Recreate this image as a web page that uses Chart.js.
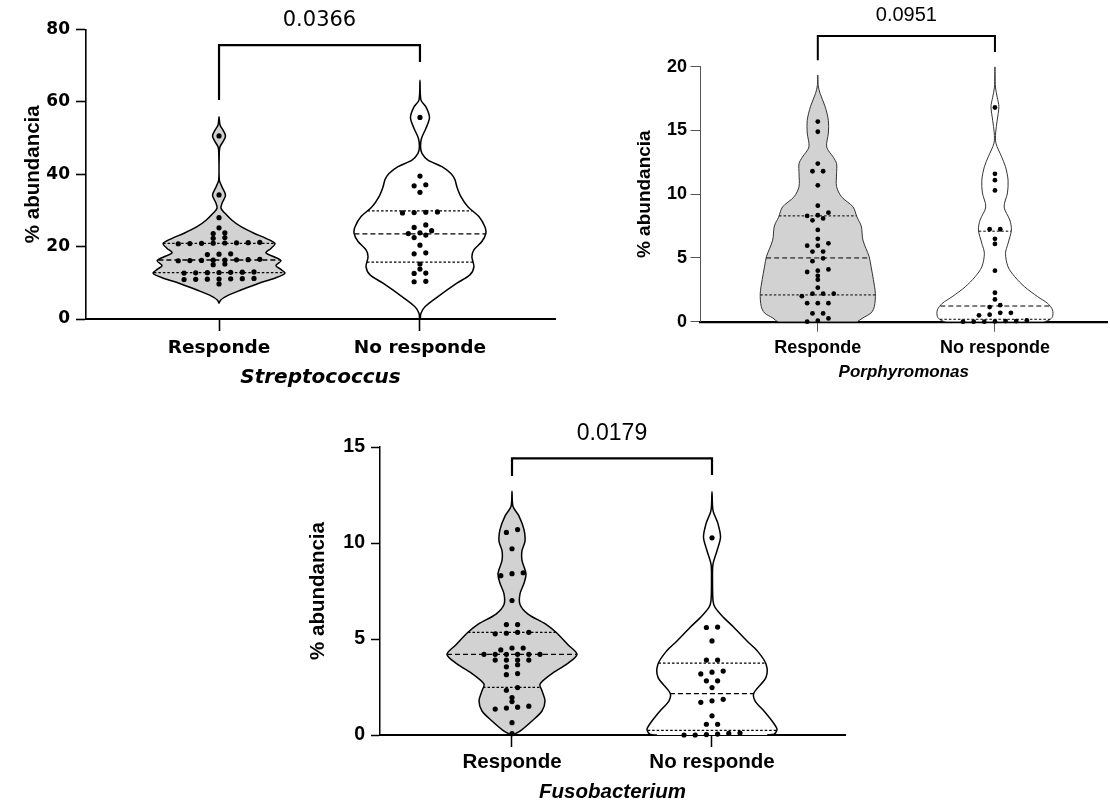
<!DOCTYPE html>
<html><head><meta charset="utf-8">
<script src="https://cdn.jsdelivr.net/npm/chart.js@4.4.1/dist/chart.umd.min.js"></script>
<style>
html,body{margin:0;padding:0;background:#fff;width:1110px;height:810px;overflow:hidden;position:relative}
canvas{position:absolute}
</style></head><body>
<canvas id="c1"></canvas>
<canvas id="c2"></canvas>
<canvas id="c3"></canvas>
<script>
// ---------------- DATA ----------------
const categories = ['Responde', 'No responde'];
const genera = ['Streptococcus', 'Porphyromonas', 'Fusobacterium'];
const pValues = ['0.0366', '0.0951', '0.0179'];
const yAxisMax = [80, 20, 15];
const yAxisStep = [20, 5, 5];

// individual points (% abundancia)
const strepResp = [9.7, 10.9, 10.95, 11.0, 11.05, 11.1, 11.15, 11.2, 12.7, 12.75, 12.8, 12.85, 12.9, 12.95, 13.0,
  15.0, 15.2, 16.1, 16.15, 16.2, 16.25, 16.3, 16.35, 16.4, 16.5, 17.8, 17.9, 18.0,
  20.8, 20.85, 20.9, 20.95, 21.0, 21.05, 21.1, 21.2, 22.3, 22.5, 23.6, 23.8, 25.2, 28.0, 34.3, 50.6];
const strepNoResp = [10.3, 10.4, 12.6, 12.7, 13.8, 15.2, 18.0, 18.3, 20.4, 22.5, 23.2, 23.6, 23.8, 24.4, 25.3, 26.0,
  29.3, 29.4, 29.5, 29.6, 35.0, 36.8, 37.1, 39.5, 55.7];
const porphResp = [0.0, 0.08, 0.26, 0.65, 0.65, 1.45, 1.45, 1.45, 2.0, 2.2, 2.2, 2.2, 2.67, 3.3, 3.6, 3.9, 4.0, 4.1,
  4.75, 4.97, 5.5, 5.5, 5.96, 5.96, 6.15, 6.5, 7.2, 7.95, 8.1, 8.3, 8.35, 8.55, 9.1, 10.7, 11.8, 11.8, 12.4, 14.9, 15.7];
const porphNoResp = [0, 0, 0, 0.02, 0.05, 0.05, 0.1, 0.5, 0.55, 0.7, 0.7, 1.15, 1.3, 1.75, 2.27, 4.0, 6.1, 6.5,
  7.25, 7.25, 10.3, 11.1, 11.6, 16.8];
const fusoResp = [0.07, 0.64, 1.35, 1.4, 1.45, 1.5, 1.74, 1.95, 2.33, 2.47, 3.14, 3.2, 3.55, 3.66, 3.9, 3.9, 3.9, 3.9,
  4.2, 4.2, 4.2, 4.2, 4.2, 4.2, 4.43, 4.53, 4.53, 5.27, 5.3, 5.35, 5.35, 5.75, 5.75, 7.0, 8.3, 8.4, 8.45, 9.7, 10.55, 10.7];
const fusoNoResp = [0, 0, 0.02, 0.05, 0.08, 0.1, 0.56, 0.56, 1.0, 1.70, 1.78, 1.86, 2.47, 2.82, 2.82, 3.18, 3.27, 3.33,
  3.9, 3.9, 4.9, 5.6, 5.62, 10.27];

// quartile lines [Q1, median, Q3]
const strepRespQuart = [12.8, 16.3, 20.9];
const strepNoRespQuart = [15.7, 23.5, 29.9];
const porphRespQuart = [2.1, 5.0, 8.3];
const porphNoRespQuart = [0.19, 1.23, 7.1];
const fusoRespQuart = [2.48, 4.2, 5.35];
const fusoNoRespQuart = [0.24, 2.16, 3.74];

// violin density profiles (level, relative density)
const strepRespLevels = [4.3, 5.2, 6.4, 8.0, 9.9, 11.2, 12.6, 13.7, 14.8, 16.1, 17.2, 18.3, 19.5, 20.9, 22.3, 23.7, 25.5,
  27.3, 29.2, 30.6, 32.0, 34.2, 36.5, 38.4, 46.2, 47.6, 49.0, 50.6, 52.2, 53.6, 55.9];
const strepRespDensity = [0, 1.5, 8, 22, 40, 55, 66, 62, 57, 62, 55, 47, 52, 56, 47, 35, 22,
  13, 6, 2, 3, 6.5, 3, 0.3, 0.3, 1, 4, 6.5, 4, 1, 0];
const strepNoRespLevels = [0.0, 1.6, 3.4, 6.2, 9.9, 12.2, 14.4, 17.2, 19.1, 21.4, 23.7, 25.5, 28.3, 31.0, 33.8, 36.5,
  38.5, 40.2, 42.1, 43.9, 45.8, 47.5, 49.9, 52.7, 55.7, 58.6, 60.5, 66.0];
const strepNoRespDensity = [0.3, 1, 5, 18, 37, 50, 54, 52, 54, 62, 66, 65, 59, 48, 41, 37,
  35, 31, 22, 8, 2, 0.6, 1.5, 6, 9.5, 6, 1, 0];
const porphRespLevels = [0, 0.3, 0.69, 1.2, 2.2, 3.3, 4.3, 5.1, 6.4, 7.5, 8.2, 9.0, 9.8, 10.6, 11.6, 12.4, 12.9, 13.7,
  14.8, 15.8, 16.9, 17.9, 18.5, 19.35];
const porphRespDensity = [40, 45.7, 54, 57.3, 58.3, 56.3, 54, 52, 45.7, 44, 39.7, 35.7, 24, 19, 19, 19, 15.7, 9,
  10.7, 10.7, 7.3, 2.3, 0.5, 0];
const porphNoRespLevels = [0, 0.13, 0.4, 0.92, 1.44, 1.96, 2.74, 3.53, 4.3, 5.36, 6.15, 7.2, 7.98, 9.0, 10.1, 11.1,
  12.15, 12.94, 14.0, 14.8, 15.8, 16.87, 17.6, 18.4, 20.0];
const porphNoRespDensity = [50, 55, 58.3, 58.3, 53.3, 43.3, 30, 20, 13.3, 10.7, 13.3, 16.7, 15, 9.3, 12.7, 13.3,
  10.7, 6.7, 1, 0.7, 2.3, 4, 2.3, 0.5, 0];
const fusoRespLevels = [0, 0.03, 0.2, 0.73, 1.25, 1.78, 2.3, 2.65, 3.2, 3.7, 4.2, 4.7, 5.35, 5.8, 6.3, 6.8, 7.35, 7.9,
  8.4, 9.1, 9.6, 10.1, 10.7, 11.4, 11.9, 12.7];
const fusoRespDensity = [0, 2, 8, 20, 30, 33, 30, 28, 40, 55, 65, 56, 44, 33, 16, 8, 8, 12,
  14, 10, 10, 13, 12, 7, 1, 0];
const fusoNoRespLevels = [0, 0.04, 0.3, 0.73, 1.25, 1.78, 2.2, 3.0, 3.7, 4.4, 4.9, 5.6, 6.1, 6.65, 7.0, 8.2, 8.9, 9.6,
  10.3, 11.0, 11.7, 12.67];
const fusoNoRespDensity = [55, 62, 65, 60, 52, 43, 42, 54, 54, 45, 35, 22, 12, 3, 1, 0.5, 1, 5,
  8.5, 6, 1, 0];

// significance brackets: [left leg end, right leg end], top, label level
const bracketLegs = [[60.5, 71.0], [20.5, 21.15], [13.49, 13.54]];
const bracketTop = [75.7, 22.4, 14.41];
const pLabelLevel = [82.6, 24.05, 15.68];

// ---------------- STYLE / LAYOUT ----------------
const LIB = '"Liberation Sans", Arial, sans-serif';
const DJV = '"DejaVu Sans", sans-serif';
const panelStyles = [
  { id: 'c1', left: 0, top: 0, w: 560, h: 400, padTop: 29.5, padRight: 5, yW: 86, xH: 81, xMin: 0.338, xMax: 2.672,
    yTickFont: {family: DJV, size: 17, weight: 'bold'}, xTickFont: {family: DJV, size: 18.5, weight: 'bold'},
    xTitleFont: {family: DJV, size: 20, weight: 'bold', style: 'italic'}, yTitleFont: {family: LIB, size: 20.5, weight: 'bold'},
    pFont: '21px ' + DJV, yTickLen: 10, yTickPad: 6, xTickLen: 12, xTickPad: 5.9, xTitlePad: 10, yTitlePad: 20.7,
    axisColor: '#000', axisWidth: 1.6, violinColor: '#000', violinWidth: 1.5, qWidth: 1.3, bracketWidth: 2.2,
    baseDash: [4, 1.5], baseWidth: 2, dotRadius: 2.6, dotSpacing: 0.058, groupTol: 0.97, halfW: 0.328 },
  { id: 'c2', left: 600, top: 0, w: 510, h: 400, padTop: 66.7, padRight: 0, yW: 100, xH: 78.3, xMin: 0.335, xMax: 2.636,
    yTickFont: {family: LIB, size: 18, weight: 'bold'}, xTickFont: {family: LIB, size: 18, weight: 'bold'},
    xTitleFont: {family: LIB, size: 17, weight: 'bold', style: 'italic'}, yTitleFont: {family: LIB, size: 19, weight: 'bold'},
    pFont: '20px ' + LIB, yTickLen: 9.5, yTickPad: 3.5, xTickLen: 10, xTickPad: 5.5, xTitlePad: 17.8, yTitlePad: 33.6,
    axisColor: '#555', axisWidth: 1, violinColor: '#333', violinWidth: 1, qWidth: 1, bracketWidth: 2,
    baseDash: [3, 2], baseWidth: 2.2, dotRadius: 2.4, dotSpacing: 0.060, groupTol: 0.275, halfW: 0.325 },
  { id: 'c3', left: 290, top: 400, w: 570, h: 410, padTop: 47, padRight: 15, yW: 90, xH: 75, xMin: 0.34, xMax: 2.665,
    yTickFont: {family: LIB, size: 19.5, weight: 'bold'}, xTickFont: {family: LIB, size: 20.5, weight: 'bold'},
    xTitleFont: {family: LIB, size: 20.5, weight: 'bold', style: 'italic'}, yTitleFont: {family: LIB, size: 20.5, weight: 'bold'},
    pFont: '23px ' + LIB, yTickLen: 9, yTickPad: 6, xTickLen: 12, xTickPad: 2.7, xTitlePad: 5.7, yTitlePad: 15.7,
    axisColor: '#000', axisWidth: 1.5, violinColor: '#000', violinWidth: 1.5, qWidth: 1.3, bracketWidth: 2.2,
    baseDash: [4, 1.5], baseWidth: 2, dotRadius: 2.6, dotSpacing: 0.056, groupTol: 0.182, halfW: 0.325 }
];
const respFill = '#d2d2d2';
const noRespFill = '#ffffff';

const panelGroups = [
  [{values: strepResp, quart: strepRespQuart, levels: strepRespLevels, density: strepRespDensity, fill: respFill},
   {values: strepNoResp, quart: strepNoRespQuart, levels: strepNoRespLevels, density: strepNoRespDensity, fill: noRespFill}],
  [{values: porphResp, quart: porphRespQuart, levels: porphRespLevels, density: porphRespDensity, fill: respFill},
   {values: porphNoResp, quart: porphNoRespQuart, levels: porphNoRespLevels, density: porphNoRespDensity, fill: noRespFill}],
  [{values: fusoResp, quart: fusoRespQuart, levels: fusoRespLevels, density: fusoRespDensity, fill: respFill},
   {values: fusoNoResp, quart: fusoNoRespQuart, levels: fusoNoRespLevels, density: fusoNoRespDensity, fill: noRespFill}]
];

// ---------------- helpers ----------------
function densityAt(levels, dens, v) {
  for (let i = 0; i < levels.length - 1; i++) {
    if (v >= levels[i] && v <= levels[i + 1]) {
      const t = (v - levels[i]) / (levels[i + 1] - levels[i]);
      return dens[i] + t * (dens[i + 1] - dens[i]);
    }
  }
  return 0;
}
function swarm(values, center, tol, spacing) {
  const sorted = [...values].sort((a, b) => a - b);
  const out = [];
  let group = [];
  const flush = () => {
    group.forEach((v, i) => out.push({x: center + (i - (group.length - 1) / 2) * spacing, y: v}));
    group = [];
  };
  for (const v of sorted) {
    if (group.length && v - group[0] > tol) flush();
    group.push(v);
  }
  flush();
  return out;
}

const pvalPlugin = {
  id: 'pval',
  afterDatasetsDraw(chart, args, opts) {
    const {ctx, scales: {x, y}} = chart;
    ctx.save();
    ctx.font = opts.font;
    ctx.fillStyle = '#000';
    ctx.textAlign = 'center';
    ctx.textBaseline = 'middle';
    ctx.fillText(opts.text, x.getPixelForValue(1.5), y.getPixelForValue(opts.level));
    ctx.restore();
  }
};

function buildPanel(k) {
  const s = panelStyles[k];
  const groups = panelGroups[k];
  const cv = document.getElementById(s.id);
  cv.width = s.w; cv.height = s.h;
  cv.style.left = s.left + 'px'; cv.style.top = s.top + 'px';
  cv.style.width = s.w + 'px'; cv.style.height = s.h + 'px';

  const maxDens = Math.max(...groups.flatMap(g => g.density));
  const datasets = [];
  groups.forEach((g, gi) => {
    const c = gi + 1;
    const right = g.levels.map((y, i) => ({x: c + g.density[i] / maxDens * s.halfW, y}));
    const left = g.levels.map((y, i) => ({x: c - g.density[i] / maxDens * s.halfW, y})).reverse();
    if (g.density[g.density.length - 1] === 0) left.shift();
    const pts = right.concat(left);
    if (g.density[0] !== 0) pts.push({x: right[0].x, y: right[0].y});
    datasets.push({
      data: pts, showLine: true, fill: 'shape', backgroundColor: g.fill,
      borderColor: s.violinColor, borderWidth: s.violinWidth, pointRadius: 0, pointHoverRadius: 0,
      tension: 0.3, order: 3,
      segment: { borderColor: ctx => (ctx.p0.parsed.y === 0 && ctx.p1.parsed.y === 0) ? 'rgba(0,0,0,0)' : undefined }
    });
    g.quart.forEach((q, qi) => {
      const w = densityAt(g.levels, g.density, q) / maxDens * s.halfW;
      datasets.push({
        data: [{x: c - w, y: q}, {x: c + w, y: q}], showLine: true, fill: false,
        borderColor: '#000', borderWidth: s.qWidth, borderDash: qi === 1 ? [5, 3] : [2.5, 2],
        pointRadius: 0, pointHoverRadius: 0, order: 2
      });
    });
    datasets.push({
      data: swarm(g.values, c, s.groupTol, s.dotSpacing), showLine: false,
      pointRadius: s.dotRadius, pointHoverRadius: s.dotRadius, backgroundColor: '#000', borderWidth: 0,
      order: 0, clip: false
    });
  });
  datasets.push({
    data: [{x: 1, y: bracketLegs[k][0]}, {x: 1, y: bracketTop[k]}, {x: 2, y: bracketTop[k]}, {x: 2, y: bracketLegs[k][1]}],
    showLine: true, fill: false, borderColor: '#000', borderWidth: s.bracketWidth, pointRadius: 0, pointHoverRadius: 0,
    tension: 0, order: 1, clip: false, borderJoinStyle: 'miter', borderCapStyle: 'butt'
  });

  new Chart(cv, {
    type: 'scatter',
    data: {datasets},
    plugins: [pvalPlugin],
    options: {
      responsive: false, animation: false, devicePixelRatio: 1,
      layout: {padding: {top: s.padTop, right: s.padRight, left: 0, bottom: 0}},
      plugins: {
        legend: {display: false}, tooltip: {enabled: false},
        pval: {text: pValues[k], level: pLabelLevel[k], font: s.pFont}
      },
      scales: {
        x: {
          type: 'linear', min: s.xMin, max: s.xMax, z: 1,
          afterBuildTicks: sc => { sc.ticks = categories.map((c, i) => ({value: i + 1})); },
          afterFit: sc => { sc.height = s.xH; },
          ticks: { callback: (v, i) => categories[i], font: s.xTickFont, color: '#000', padding: s.xTickPad,
                   maxRotation: 0, autoSkip: false },
          grid: { drawOnChartArea: false, drawTicks: true, tickLength: s.xTickLen, tickColor: s.axisColor, tickWidth: s.axisWidth },
          border: { display: true, color: '#000', width: s.baseWidth, dash: s.baseDash },
          title: { display: true, text: genera[k], font: s.xTitleFont, color: '#000', padding: {top: 0, bottom: s.xTitlePad} }
        },
        y: {
          type: 'linear', min: 0, max: yAxisMax[k],
          afterFit: sc => { sc.width = s.yW; },
          ticks: { stepSize: yAxisStep[k], font: s.yTickFont, color: '#000', padding: s.yTickPad },
          grid: { drawOnChartArea: false, drawTicks: true, tickLength: s.yTickLen, tickColor: s.axisColor, tickWidth: s.axisWidth },
          border: { display: true, color: s.axisColor, width: s.axisWidth },
          title: { display: true, text: '% abundancia', font: s.yTitleFont, color: '#000', padding: {top: s.yTitlePad, bottom: 0} }
        }
      }
    }
  });
}
[0, 1, 2].forEach(buildPanel);
</script>
</body></html>
